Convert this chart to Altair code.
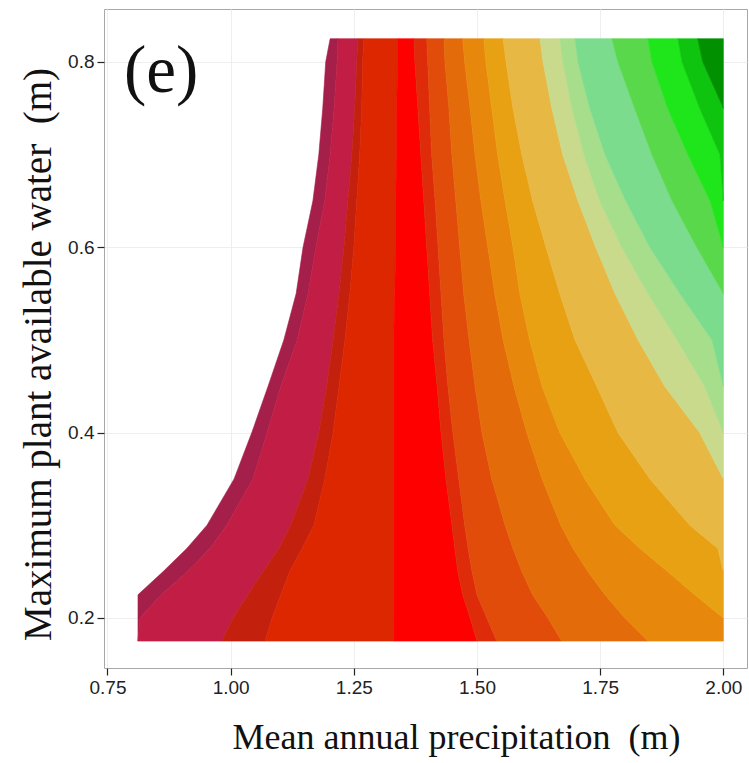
import altair as alt
import pandas as pd

# Row positions (maximum plant available water, m), bottom to top
rows = [0.175, 0.2, 0.225, 0.25, 0.275, 0.3, 0.35, 0.4, 0.45, 0.5, 0.55,
        0.6, 0.65, 0.7, 0.75, 0.8, 0.825]

# Band boundaries (mean annual precipitation, m) at each row, left to right
b00 = [0.812, 0.812, 0.812, 0.863, 0.911, 0.952, 1.007, 1.043, 1.076, 1.108, 1.133, 1.147, 1.167, 1.179, 1.187, 1.193, 1.202]
b01 = [0.812, 0.816, 0.859, 0.913, 0.958, 0.992, 1.045, 1.074, 1.102, 1.135, 1.157, 1.173, 1.191, 1.202, 1.210, 1.216, 1.218]
b02 = [0.982, 1.005, 1.035, 1.066, 1.098, 1.122, 1.157, 1.179, 1.195, 1.208, 1.220, 1.230, 1.238, 1.246, 1.252, 1.256, 1.258]
b03 = [1.070, 1.084, 1.102, 1.120, 1.145, 1.169, 1.191, 1.208, 1.220, 1.232, 1.242, 1.250, 1.256, 1.262, 1.266, 1.268, 1.270]
b04 = [1.331, 1.331, 1.331, 1.331, 1.331, 1.331, 1.331, 1.331, 1.331, 1.331, 1.333, 1.335, 1.335, 1.337, 1.337, 1.339, 1.339]
b05 = [1.500, 1.486, 1.471, 1.461, 1.455, 1.449, 1.437, 1.427, 1.419, 1.410, 1.404, 1.398, 1.392, 1.386, 1.380, 1.374, 1.372]
b06 = [1.540, 1.520, 1.500, 1.490, 1.482, 1.475, 1.463, 1.451, 1.441, 1.433, 1.427, 1.421, 1.415, 1.408, 1.404, 1.400, 1.398]
b07 = [1.672, 1.644, 1.613, 1.591, 1.573, 1.557, 1.530, 1.510, 1.496, 1.484, 1.473, 1.465, 1.457, 1.449, 1.443, 1.435, 1.433]
b08 = [1.847, 1.800, 1.760, 1.725, 1.695, 1.670, 1.632, 1.601, 1.575, 1.553, 1.536, 1.522, 1.508, 1.496, 1.486, 1.475, 1.471]
b09 = [2.000, 2.000, 1.942, 1.887, 1.831, 1.780, 1.719, 1.668, 1.632, 1.607, 1.587, 1.573, 1.557, 1.542, 1.530, 1.518, 1.514]
b10 = [2.000, 2.000, 2.000, 2.000, 1.989, 1.932, 1.851, 1.786, 1.743, 1.699, 1.668, 1.640, 1.613, 1.591, 1.573, 1.559, 1.553]
b11 = [2.000, 2.000, 2.000, 2.000, 2.000, 2.000, 2.000, 1.952, 1.881, 1.827, 1.780, 1.741, 1.705, 1.674, 1.652, 1.634, 1.628]
b12 = [2.000, 2.000, 2.000, 2.000, 2.000, 2.000, 2.000, 2.000, 1.962, 1.906, 1.847, 1.794, 1.749, 1.717, 1.693, 1.674, 1.668]
b13 = [2.000, 2.000, 2.000, 2.000, 2.000, 2.000, 2.000, 2.000, 2.000, 1.977, 1.912, 1.851, 1.802, 1.760, 1.729, 1.705, 1.699]
b14 = [2.000, 2.000, 2.000, 2.000, 2.000, 2.000, 2.000, 2.000, 2.000, 2.000, 2.000, 1.946, 1.896, 1.855, 1.820, 1.786, 1.774]
b15 = [2.000, 2.000, 2.000, 2.000, 2.000, 2.000, 2.000, 2.000, 2.000, 2.000, 2.000, 2.000, 1.973, 1.928, 1.887, 1.855, 1.847]
b16 = [2.000, 2.000, 2.000, 2.000, 2.000, 2.000, 2.000, 2.000, 2.000, 2.000, 2.000, 2.000, 2.000, 1.993, 1.952, 1.916, 1.908]
b17 = [2.000, 2.000, 2.000, 2.000, 2.000, 2.000, 2.000, 2.000, 2.000, 2.000, 2.000, 2.000, 2.000, 2.000, 2.000, 1.958, 1.948]
b18 = [2.000] * 17

boundaries = [b00, b01, b02, b03, b04, b05, b06, b07, b08, b09,
              b10, b11, b12, b13, b14, b15, b16, b17, b18]

band_names = ["c01", "c02", "c03", "c04", "c05", "c06", "c07", "c08", "c09",
              "c10", "c11", "c12", "c13", "c14", "c15", "c16", "c17", "c18"]
band_colors = ["#A41F49", "#C21E45", "#C4200E", "#DD2700", "#FF0000", "#DE2C0A",
               "#E14C0B", "#E46B0A", "#E7880C", "#E9A114", "#E8B845", "#C9DA8C",
               "#A6DE8C", "#7ADC8C", "#58D84A", "#1EE61A", "#0EC40E", "#009000"]

x_ticks = [0.75, 1.00, 1.25, 1.50, 1.75, 2.00]
y_ticks = [0.2, 0.4, 0.6, 0.8]

x_title = "Mean annual precipitation\u00a0\u00a0(m)"
y_title = "Maximum plant available water\u00a0\u00a0(m)"
panel_label = "(e)"

# Each band becomes a closed polygon: up its left boundary, down its right boundary
records = []
n = len(rows)
for i, name in enumerate(band_names):
    left, right = boundaries[i], boundaries[i + 1]
    w = [right[j] - left[j] for j in range(n)]
    idx = [j for j in range(n)
           if w[j] > 1e-9 or (j > 0 and w[j - 1] > 1e-9) or (j < n - 1 and w[j + 1] > 1e-9)]
    k = 0
    for j in idx:
        records.append({"band": name, "ord": k, "x": left[j], "y": rows[j]})
        k += 1
    for j in reversed(idx):
        records.append({"band": name, "ord": k, "x": right[j], "y": rows[j]})
        k += 1
    records.append({"band": name, "ord": k, "x": left[idx[0]], "y": rows[idx[0]]})
df = pd.DataFrame(records)

xscale = alt.Scale(domain=[0.743, 2.048], nice=False, zero=False)
yscale = alt.Scale(domain=[0.146, 0.857], nice=False, zero=False)
cscale = alt.Scale(domain=band_names, range=band_colors)

chart = alt.Chart(df).mark_line(filled=True, strokeWidth=0.6, strokeJoin="miter").encode(
    x=alt.X("x:Q", scale=xscale,
            axis=alt.Axis(values=x_ticks, format=".2f", title=x_title,
                          titleX=352, titleY=80, titleBaseline="alphabetic", titleAlign="center",
                          titleFontSize=36)),
    y=alt.Y("y:Q", scale=yscale,
            axis=alt.Axis(values=y_ticks, format=".1f", title=y_title,
                          titleX=-54, titleY=345, titleAngle=-90, titleBaseline="alphabetic",
                          titleAlign="center", titleFontSize=39)),
    order=alt.Order("ord:Q"),
    detail="band:N",
    fill=alt.Fill("band:N", scale=cscale, legend=None),
    stroke=alt.Stroke("band:N", scale=cscale, legend=None),
).properties(
    width=643, height=659,
    padding={"left": 104, "top": 9, "right": 2, "bottom": 95},
    autosize="none",
    title=alt.TitleParams(panel_label, anchor="start", orient="top", frame="group",
                          font="Liberation Serif", fontSize=67, fontWeight="normal",
                          color="#111111", dx=20, dy=150, offset=0, baseline="alphabetic"),
).configure_view(
    stroke="#a8a8a8", strokeWidth=1
).configure_axis(
    domain=False,
    grid=True, gridColor="#eeeeee", gridWidth=1,
    ticks=True, tickColor="#222222", tickSize=7, tickWidth=1.2,
    labelFont="Liberation Sans", labelFontSize=19, labelColor="#222222", labelPadding=3,
    titleFont="Liberation Serif", titleFontWeight="normal", titleColor="#111111",
)

chart.save("out.html", embed_options={"renderer": "svg", "actions": False})
